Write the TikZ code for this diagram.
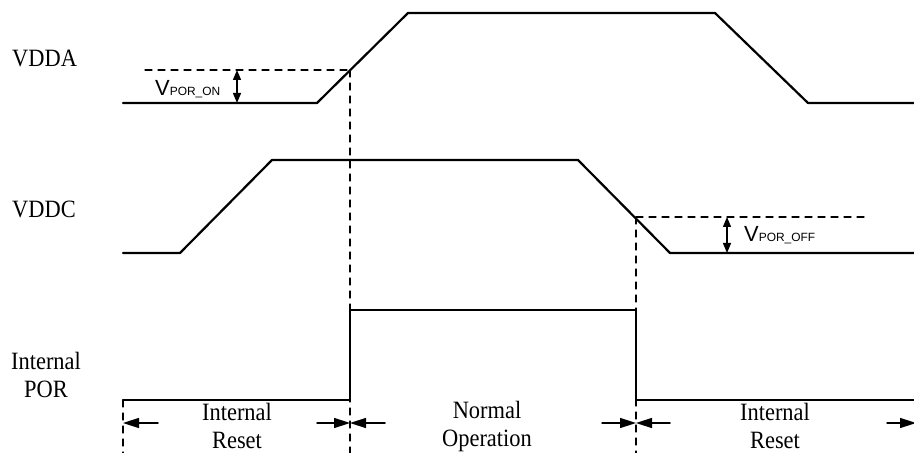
\documentclass[tikz,border=0pt]{standalone}
\usepackage{fontspec}
\usetikzlibrary{arrows.meta}
\newfontfamily\lblfont[FakeStretch=0.9]{Liberation Serif}
\newfontfamily\volfont{Liberation Sans}

\begin{document}
\begin{tikzpicture}[line cap=round,line join=round,x=1bp,y=-1bp,
  >={Triangle[length=16bp,width=10bp]},
  wave/.style={line width=2.2bp},
  guide/.style={line width=1.3bp,dash pattern=on 7bp off 6bp},
  span/.style={line width=1.5bp,->},
  lvl/.style={line width=1.3bp,{Triangle[length=10bp,width=8bp]}-{Triangle[length=10bp,width=8bp]}},
  lbl/.style={font=\lblfont\fontsize{25}{28}\selectfont,inner sep=0pt,align=center},
  vpor/.style={font=\volfont\fontsize{22}{26}\selectfont,inner sep=0pt,anchor=base west}]
\useasboundingbox (0,0) rectangle (914,453);
% crossing points and edges
\coordinate (on) at (350,70);
\coordinate (off) at (636,217);
\coordinate (t0) at (123,423);
\coordinate (t1) at (350,423);
\coordinate (t2) at (636,423);
\coordinate (t3) at (914,423);
% signals
\draw[wave] (123,103) -- (317,103) -- (408,13) -- (715,13) -- (808,103) -- (914,103);
\draw[wave] (123,253) -- (180,253) -- (272,160) -- (578,160) -- (670,253) -- (914,253);
\draw[wave] (123,400) -- (350,400) -- (350,310) -- (636,310) -- (636,400) -- (914,400);
% thresholds
\draw[guide] (145,70) -- (on);
\draw[guide] (off) -- (865,217);
\draw[guide] (on) -- (350,453);
\draw[guide] (off) -- (636,453);
\draw[guide] (123,400) -- (123,453);
\draw[lvl] (237,70) -- (237,103);
\draw[lvl] (727,217) -- (727,253);
\node[vpor] (vporon) at (155,96) {V{\fontsize{12}{14}\selectfont POR\_ON}};
\node[vpor] (vporoff) at (744,242) {V{\fontsize{12}{14}\selectfont POR\_OFF}};
% signal names
\node[lbl,anchor=base west] (vdda) at (12,67) {VDDA};
\node[lbl,anchor=base west] (vddc) at (12,218) {VDDC};
\node[lbl,anchor=base] (por) at (46,397) {Internal\\POR};
% spans
\draw[span] ([xshift=35bp]t0) -- (t0);
\draw[span] ([xshift=-33bp]t1) -- (t1);
\draw[span] ([xshift=35bp]t1) -- (t1);
\draw[span] ([xshift=-34bp]t2) -- (t2);
\draw[span] ([xshift=34bp]t2) -- (t2);
\draw[span] ([xshift=-27bp]t3) -- ([xshift=2bp]t3);
\node[lbl,anchor=base] (rst1) at (237,448) {Internal\\Reset};
\node[lbl,anchor=base] (normop) at (487,446) {Normal\\Operation};
\node[lbl,anchor=base] (rst2) at (775,448) {Internal\\Reset};
\end{tikzpicture}
\end{document}
